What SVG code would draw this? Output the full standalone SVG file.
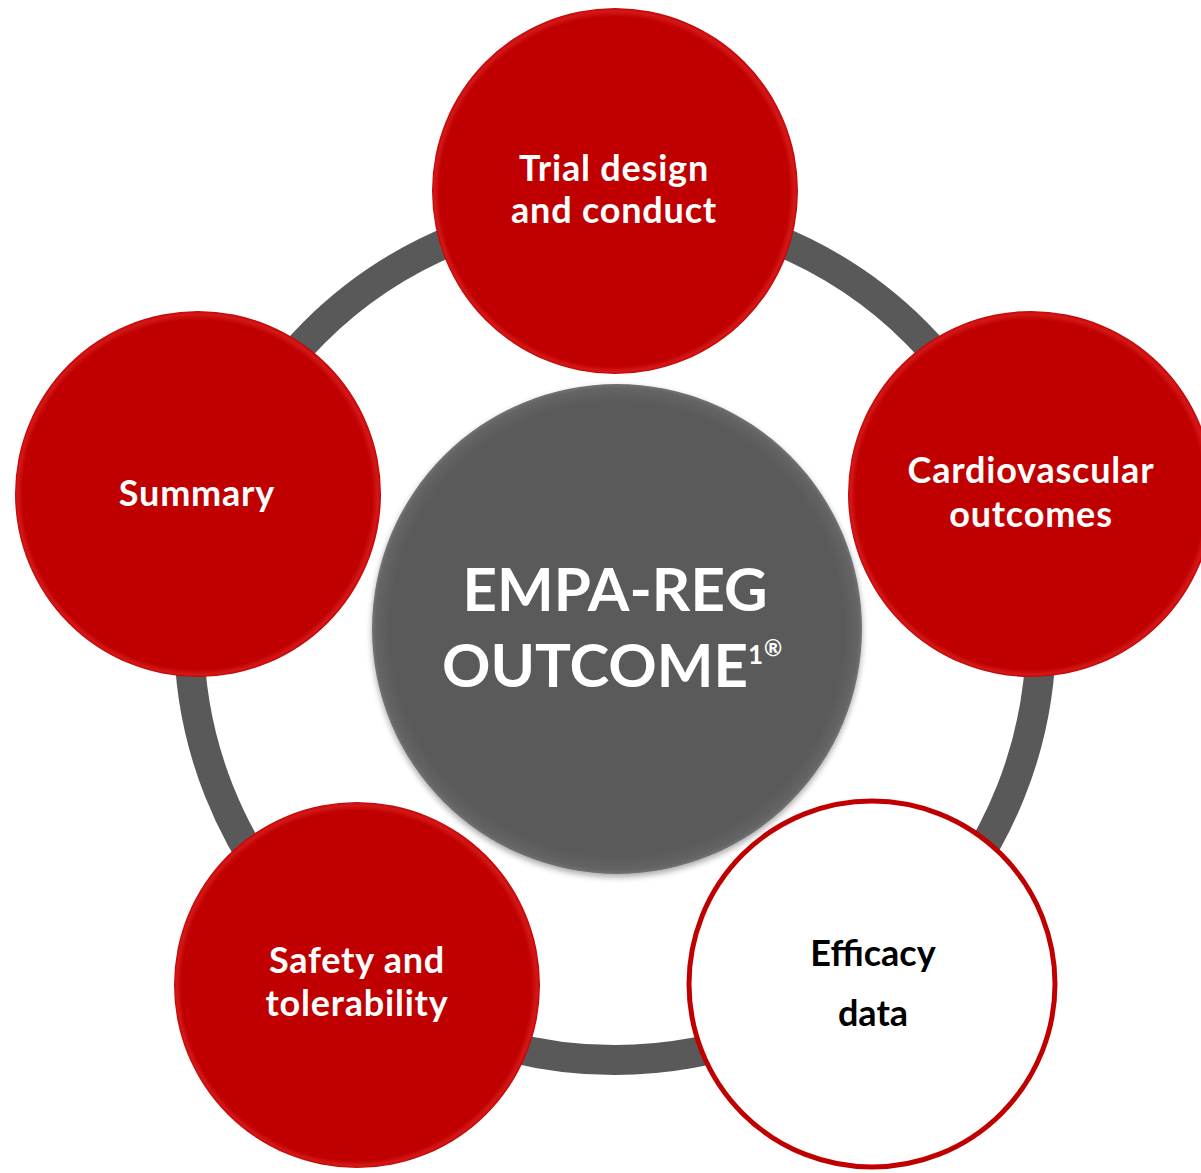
<svg xmlns="http://www.w3.org/2000/svg" width="1201" height="1173" viewBox="0 0 1201 1173">
<defs>
<radialGradient id="redBevel" cx="50%" cy="50%" r="50%" fx="45%" fy="55%">
<stop offset="0.955" stop-color="#C00000"/>
<stop offset="0.985" stop-color="#D41818"/>
<stop offset="1" stop-color="#C20404"/>
</radialGradient>
<radialGradient id="grayBevel" cx="50%" cy="50%" r="50%">
<stop offset="0.93" stop-color="#5A5A5A"/>
<stop offset="0.985" stop-color="#656565"/>
<stop offset="1" stop-color="#737373"/>
</radialGradient>
<filter id="shadow" x="-10%" y="-10%" width="120%" height="120%">
<feGaussianBlur in="SourceAlpha" stdDeviation="3"/>
<feOffset dx="0" dy="3" result="b"/>
<feComponentTransfer><feFuncA type="linear" slope="0.35"/></feComponentTransfer>
<feMerge><feMergeNode/><feMergeNode in="SourceGraphic"/></feMerge>
</filter>
</defs>
<style>
.lbl{font-family:Lato,"Open Sans","Liberation Sans",sans-serif;font-weight:bold;text-anchor:middle;fill:#FFFFFF;font-size:36px;letter-spacing:0.8px}
.big{font-size:60px;letter-spacing:0}
.dark{fill:#000000;letter-spacing:0}
.red{fill:url(#redBevel)}
.sup{text-anchor:start;letter-spacing:0}
</style>
<rect width="1201" height="1173" fill="#FFFFFF"/>
<g id="connectors">
<circle cx="615" cy="634" r="426" fill="none" stroke="#595959" stroke-width="30"/>
</g>
<g id="center">
<circle cx="617" cy="629" r="245" fill="url(#grayBevel)" filter="url(#shadow)"/>
<text class="lbl big" x="615" y="611">EMPA-REG</text>
<text class="lbl big" x="595" y="687">OUTCOME</text>
<text class="lbl sup" x="748" y="664" style="font-size:26px">1</text>
<text class="lbl sup" x="764" y="656" style="font-size:22px">®</text>
</g>
<g id="trial">
<circle class="red" cx="615" cy="191" r="183"/>
<text class="lbl" x="614" y="181">Trial design</text>
<text class="lbl" x="614" y="223">and conduct</text>
</g>
<g id="cardio">
<circle class="red" cx="1031" cy="494" r="183"/>
<text class="lbl" x="1031" y="483">Cardiovascular</text>
<text class="lbl" x="1031" y="527">outcomes</text>
</g>
<g id="summary">
<circle class="red" cx="198" cy="494" r="183"/>
<text class="lbl" x="197" y="506">Summary</text>
</g>
<g id="safety">
<circle class="red" cx="357" cy="985" r="183"/>
<text class="lbl" x="357" y="973">Safety and</text>
<text class="lbl" x="357" y="1016">tolerability</text>
</g>
<g id="efficacy">
<circle cx="872" cy="984" r="183" fill="#FFFFFF" stroke="#C00000" stroke-width="5"/>
<text class="lbl dark" x="873" y="966">Efficacy</text>
<text class="lbl dark" x="873" y="1026">data</text>
</g>
</svg>
